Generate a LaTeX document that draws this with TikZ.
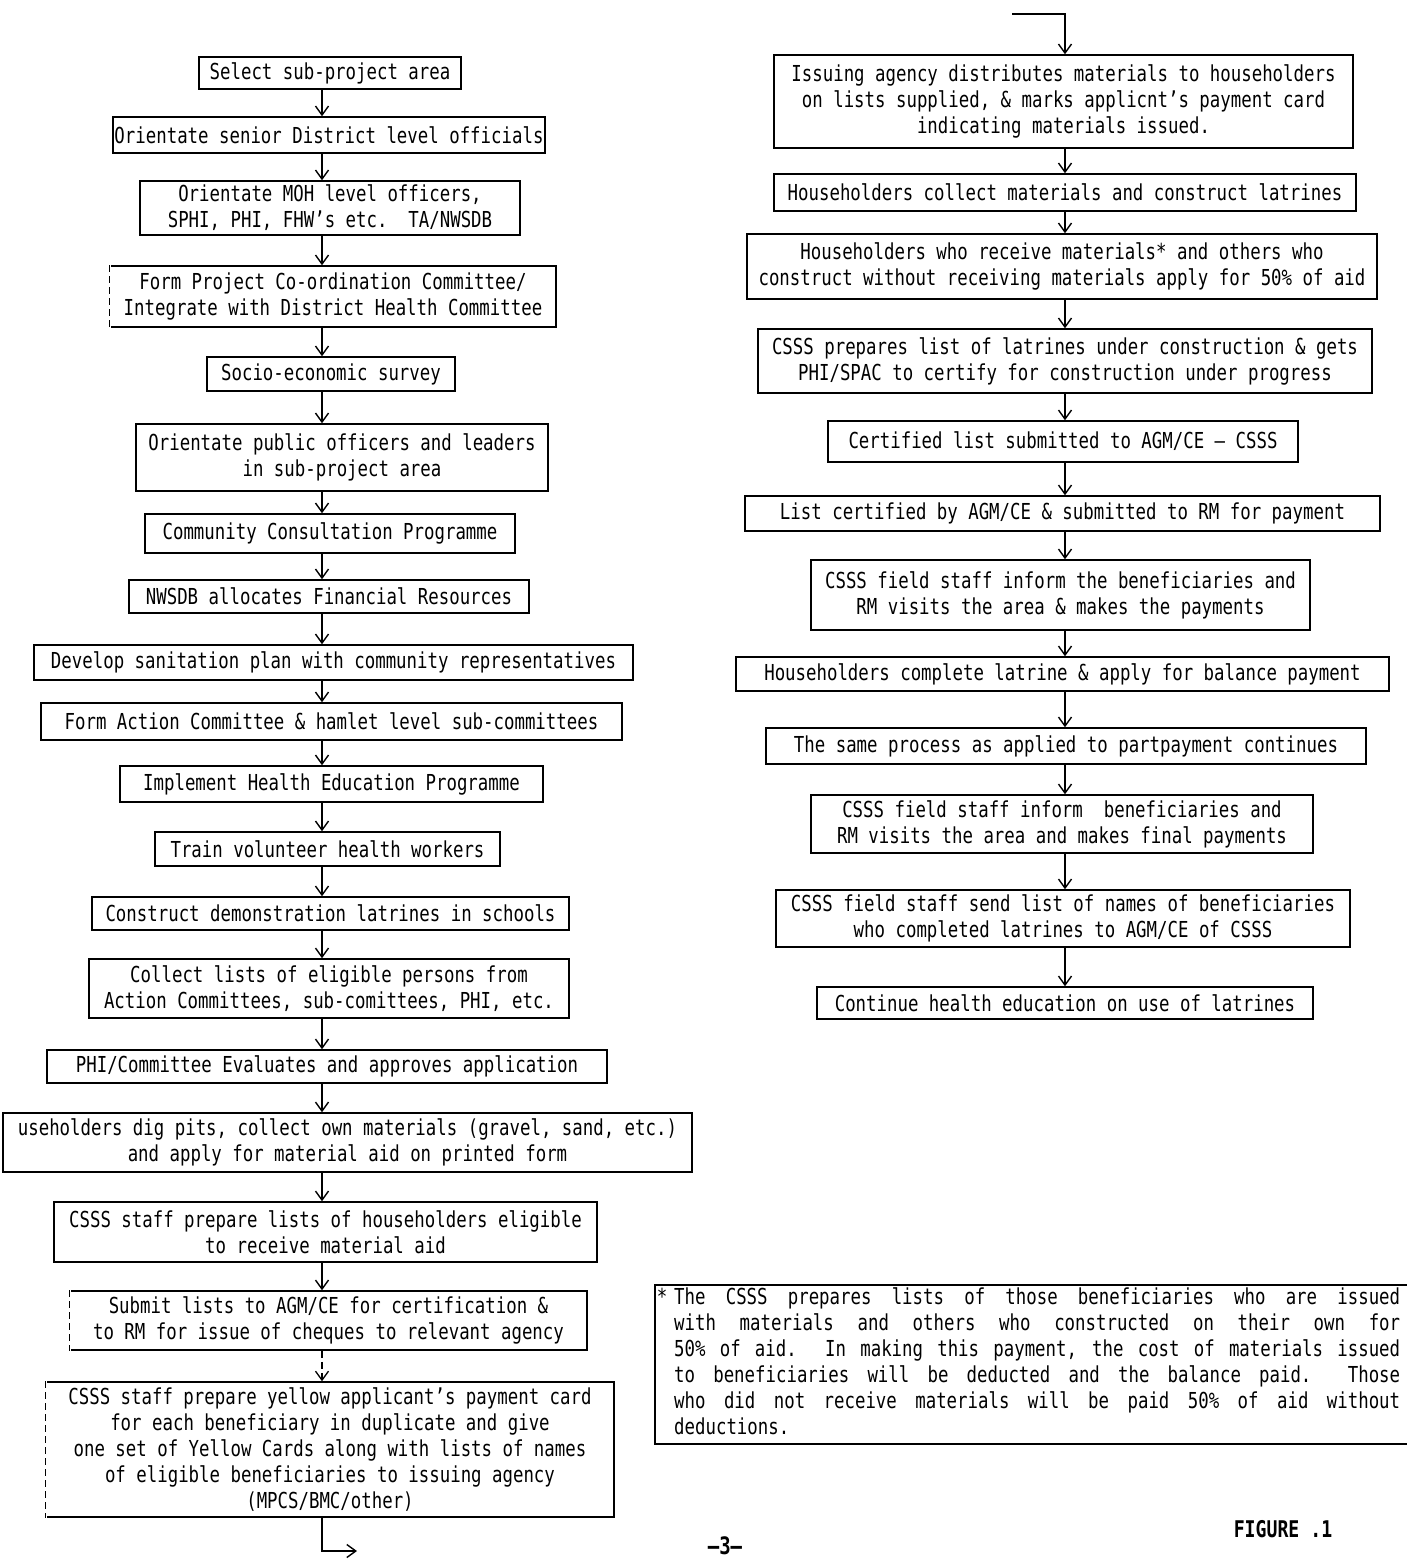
\documentclass[tikz,border=0pt]{standalone}
\usepackage{fontspec}
\usetikzlibrary{arrows.meta}
\newfontfamily\boxfont[FakeStretch=0.79,Ligatures=TeX]{DejaVu Sans Mono}
\newcommand{\mybox}[6]{\node[box, minimum width={(#4-#2)*1pt}, minimum height={(#5-#3)*1pt}] (#1) at ({(#2+#4)/2},{(#3+#5)/2}) {#6};}
\tikzset{
  box/.style={draw, line width=1.5pt, inner sep=0pt, align=center, font=\boxfont\fontsize{22}{26}\selectfont},
  arr/.style={line width=1.4pt, -{Straight Barb[length=9pt,width=13pt]}},
  dl/.style={dashed, line width=1.3pt, dash pattern=on 7pt off 4pt}
}
\begin{document}
\begin{tikzpicture}[x=1pt,y=-1pt]
\useasboundingbox (0,0) rectangle (1407,1566);
\coordinate (lx) at (322,0);
\coordinate (rx) at (1065,0);
% left column
\mybox{L1}{199}{57}{461}{89}{Select sub-project area}
\mybox{L2}{113}{117}{545}{153}{Orientate senior District level officials}
\mybox{L3}{140}{181}{520}{235}{Orientate MOH level officers,\\SPHI, PHI, FHW's etc.\ \ TA/NWSDB}
\mybox{L4}{110}{266}{556}{327}{Form Project Co-ordination Committee/\\Integrate with District Health Committee}
\mybox{L5}{207}{357}{455}{391}{Socio-economic survey}
\mybox{L6}{136}{424}{548}{491}{Orientate public officers and leaders\\in sub-project area}
\mybox{L7}{145}{514}{515}{553}{Community Consultation Programme}
\mybox{L8}{129}{580}{529}{613}{NWSDB allocates Financial Resources}
\mybox{L9}{34}{645}{633}{680}{Develop sanitation plan with community representatives}
\mybox{L10}{41}{703}{622}{740}{Form Action Committee \& hamlet level sub-committees}
\mybox{L11}{120}{766}{543}{802}{Implement Health Education Programme}
\mybox{L12}{155}{832}{500}{866}{Train volunteer health workers}
\mybox{L13}{92}{897}{569}{930}{Construct demonstration latrines in schools}
\mybox{L14}{89}{959}{569}{1018}{Collect lists of eligible persons from\\Action Committees, sub-comittees, PHI, etc.}
\mybox{L15}{47}{1050}{607}{1083}{PHI/Committee Evaluates and approves application}
\mybox{L16}{3}{1113}{692}{1172}{useholders dig pits, collect own materials (gravel, sand, etc.)\\and apply for material aid on printed form}
\mybox{L17}{54}{1202}{597}{1262}{CSSS staff prepare lists of householders eligible\\to receive material aid}
\mybox{L18}{70}{1291}{587}{1350}{Submit lists to AGM/CE for certification \&\\to RM for issue of cheques to relevant agency}
\mybox{L19}{46}{1382}{614}{1517}{CSSS staff prepare yellow applicant's payment card\\for each beneficiary in duplicate and give\\one set of Yellow Cards along with lists of names\\of eligible beneficiaries to issuing agency\\(MPCS/BMC/other)}
% dashed left edges
\foreach \n in {L4,L18,L19}{
  \draw[white, line width=3pt] (\n.north west) -- (\n.south west);
  \draw[dl] (\n.north west) -- (\n.south west);
}
% left connectors
\foreach \a/\b in {L1/L2,L2/L3,L3/L4,L4/L5,L5/L6,L6/L7,L7/L8,L8/L9,L9/L10,L10/L11,L11/L12,L12/L13,L13/L14,L14/L15,L15/L16,L16/L17,L17/L18}{
  \draw[arr] (\a.south -| lx) -- (\b.north -| lx);
}
\draw[arr, dl] (L18.south -| lx) -- (L19.north -| lx);
\coordinate (lout) at (357,1551);
\draw[arr] (L19.south -| lx) |- (lout);
% right column
\coordinate (rin) at (1012,14);
\mybox{R1}{774}{55}{1353}{148}{Issuing agency distributes materials to householders\\on lists supplied, \& marks applicnt's payment card\\indicating materials issued.}
\mybox{R2}{774}{174}{1356}{211}{Householders collect materials and construct latrines}
\mybox{R3}{747}{234}{1377}{299}{Householders who receive materials* and others who\\construct without receiving materials apply for 50\% of aid}
\mybox{R4}{758}{329}{1372}{393}{CSSS prepares list of latrines under construction \& gets\\PHI/SPAC to certify for construction under progress}
\mybox{R5}{828}{421}{1298}{462}{Certified list submitted to AGM/CE \textendash{} CSSS}
\mybox{R6}{745}{496}{1380}{531}{List certified by AGM/CE \& submitted to RM for payment}
\mybox{R7}{811}{560}{1310}{630}{CSSS field staff inform the beneficiaries and\\RM visits the area \& makes the payments}
\mybox{R8}{736}{657}{1389}{691}{Householders complete latrine \& apply for balance payment}
\mybox{R9}{766}{728}{1366}{764}{The same process as applied to partpayment continues}
\mybox{R10}{811}{795}{1313}{853}{CSSS field staff inform\ \ beneficiaries and\\RM visits the area and makes final payments}
\mybox{R11}{776}{890}{1350}{947}{CSSS field staff send list of names of beneficiaries\\who completed latrines to AGM/CE of CSSS}
\mybox{R12}{817}{987}{1313}{1019}{Continue health education on use of latrines}
\draw[arr] (rin) -| (R1.north -| rx);
\foreach \a/\b in {R1/R2,R2/R3,R3/R4,R4/R5,R5/R6,R6/R7,R7/R8,R8/R9,R9/R10,R10/R11,R11/R12}{
  \draw[arr] (\a.south -| rx) -- (\b.north -| rx);
}
% footnote
\draw[line width=1.5pt] (1407,1285) -| (655,1444) -- (1407,1444);
\node[anchor=base, inner sep=0pt, font=\boxfont\fontsize{22}{26}\selectfont] (star) at (662,1304) {*};
\node[anchor=north west, inner sep=0pt, align=left, font=\boxfont\fontsize{22}{26}\selectfont] (foot) at (674,1287) {%
\makebox[726pt][s]{The CSSS prepares lists of those beneficiaries who are issued}\\
\makebox[726pt][s]{with materials and others who constructed on their own for}\\
\makebox[726pt][s]{50\% of aid.\ \ In making this payment, the cost of materials issued}\\
\makebox[726pt][s]{to beneficiaries will be deducted and the balance paid.\ \ Those}\\
\makebox[726pt][s]{who did not receive materials will be paid 50\% of aid without}\\
deductions.};
\node[font=\boxfont\bfseries\fontsize{24}{28}\selectfont, inner sep=0pt] (pg) at (725,1546) {\textendash3\textendash};
\node[font=\boxfont\bfseries\fontsize{23}{28}\selectfont, inner sep=0pt] (fig) at (1283,1529) {FIGURE .1};
\end{tikzpicture}
\end{document}
